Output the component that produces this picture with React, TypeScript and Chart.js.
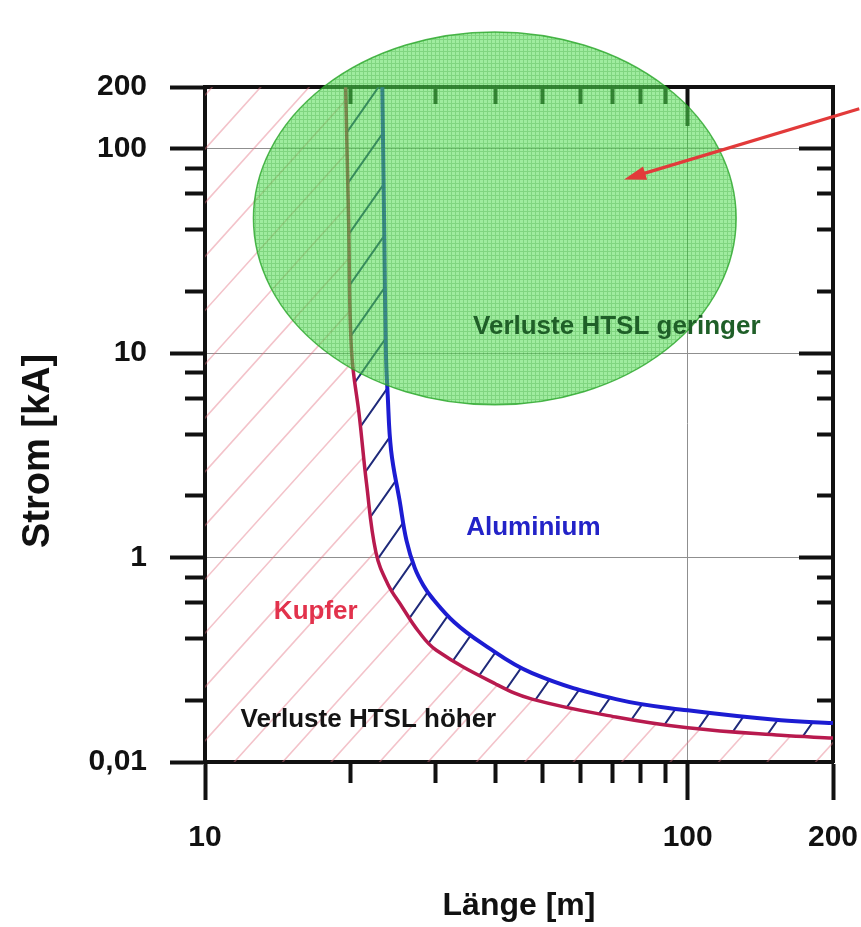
import React, { useEffect, useRef } from "react";
import { Chart, registerables } from "chart.js";

Chart.register(...registerables);

// ---------- data ----------
const kupferLength = [19.56, 19.84, 20.12, 20.9, 21.61, 22.6, 23.88, 25.65, 27.68, 30.15, 40.1, 47.6, 71, 100, 156, 200];
const kupferCurrent = [200, 44, 10.2, 4.82, 2.3, 1.06, 0.747, 0.57, 0.436, 0.352, 0.24, 0.203, 0.166, 0.147, 0.135, 0.131];

const aluminiumLength = [23.3, 23.5, 23.7, 23.9, 24.3, 25.3, 26.15, 27.2, 28.35, 29.6, 32.85, 37.5, 47.6, 71, 100, 156, 200];
const aluminiumCurrent = [200, 44, 10.2, 6.3, 3.33, 1.9, 1.21, 0.89, 0.73, 0.631, 0.482, 0.38, 0.272, 0.203, 0.179, 0.16, 0.155];

const xRange = [10, 200];
const yRange = [0.1, 200];

const xMajorTicks = [10, 100, 200];
const xMajorLabels = ["10", "100", "200"];
const xMinorTicks = [20, 30, 40, 50, 60, 70, 80, 90];
const xTopMajorTicks = [100];
const xGridValues = [100];

const yMajorTicks = [0.1, 1, 10, 100, 200];
const yMajorLabels = ["0,01", "1", "10", "100", "200"];
const yMinorTicks = [0.2, 0.4, 0.6, 0.8, 2, 4, 6, 8, 20, 40, 60, 80];
const yRightMajorTicks = [1, 10, 100];
const yGridValues = [1, 10, 100];

// green ellipse bounds (data units)
const ellipseLength = [12.6, 126];
const ellipseCurrent = [5.58, 372];

// red arrow (data units): from, to
const arrowLength = [226.7, 73.8];
const arrowCurrent = [156.7, 70.6];

// annotation texts
const noteTexts = ["Verluste HTSL geringer", "Aluminium", "Kupfer", "Verluste HTSL höher"];
const noteLength = [71.3, 47.9, 16.96, 21.8];
const noteCurrent = [13.4, 1.4, 0.54, 0.16];

// ---------- styles ----------
const FONT = "'Liberation Sans', Arial, Helvetica, sans-serif";
const AXIS = "#111111";
const GRID = "#8f8f8f";
const NOTE_COLORS = ["#1f5f28", "#2323c8", "#e2324c", "#141414"];

const bold = (size: number) => ({ family: FONT, size, weight: "bold" as const });
const setTicks = (values: number[]) => (scale: any) => {
  scale.ticks = values.map((v) => ({ value: v }));
};
const labelOf = (values: number[], labels: string[]) => (v: any) => {
  const i = values.findIndex((t) => Math.abs(t - Number(v)) < 1e-9);
  return i >= 0 ? labels[i] : "";
};

function drawHatch(ctx: CanvasRenderingContext2D, area: any, angleDeg: number, spacing: number, color: string, width: number) {
  const a = (angleDeg * Math.PI) / 180;
  const nx = Math.sin(a), ny = Math.cos(a);
  const dx = Math.cos(a), dy = -Math.sin(a);
  const cs = [
    [area.left, area.top],
    [area.right, area.top],
    [area.left, area.bottom],
    [area.right, area.bottom],
  ].map(([x, y]) => x * nx + y * ny);
  const cmin = Math.min(...cs), cmax = Math.max(...cs);
  const L = 3000;
  ctx.strokeStyle = color;
  ctx.lineWidth = width;
  ctx.beginPath();
  for (let c = Math.floor(cmin / spacing) * spacing; c <= cmax + spacing; c += spacing) {
    const px = c * nx, py = c * ny;
    ctx.moveTo(px - L * dx, py - L * dy);
    ctx.lineTo(px + L * dx, py + L * dy);
  }
  ctx.stroke();
}

let meshCache: CanvasPattern | null = null;
function meshPattern(ctx: CanvasRenderingContext2D) {
  if (meshCache) return meshCache;
  const c = document.createElement("canvas");
  c.width = 4;
  c.height = 4;
  const g = c.getContext("2d")!;
  g.fillStyle = "rgba(84,222,84,0.56)";
  g.fillRect(0, 0, 4, 4);
  g.fillStyle = "rgba(20,130,20,0.22)";
  g.fillRect(3, 0, 1, 4);
  g.fillRect(0, 3, 3, 1);
  meshCache = ctx.createPattern(c, "repeat");
  return meshCache;
}

const decorPlugin = {
  id: "decor",
  beforeDatasetsDraw(chart: any) {
    const { ctx, chartArea: a } = chart;
    const red = chart.getDatasetMeta(0).dataset;
    const blue = chart.getDatasetMeta(1).dataset;
    red.updateControlPoints(a, "x");
    blue.updateControlPoints(a, "x");
    const region = (line: any) => {
      const pts = line.points;
      const first = pts[0], last = pts[pts.length - 1];
      line.path(ctx);
      ctx.lineTo(a.right + 20, last.y);
      ctx.lineTo(a.right + 20, a.bottom + 20);
      ctx.lineTo(a.left - 20, a.bottom + 20);
      ctx.lineTo(a.left - 20, a.top - 20);
      ctx.lineTo(first.x, a.top - 20);
      ctx.closePath();
    };
    // light hatch: losses HTS higher region
    ctx.save();
    ctx.beginPath();
    ctx.rect(a.left, a.top, a.right - a.left, a.bottom - a.top);
    ctx.clip();
    ctx.beginPath();
    region(red);
    ctx.clip();
    drawHatch(ctx, a, 48, 36, "rgba(226,112,128,0.42)", 1.6);
    ctx.restore();
    // dark hatch between copper and aluminium
    ctx.save();
    ctx.beginPath();
    ctx.rect(a.left, a.top, a.right - a.left, a.bottom - a.top);
    ctx.clip();
    ctx.beginPath();
    region(blue);
    region(red);
    ctx.clip("evenodd");
    drawHatch(ctx, a, 55, 30, "#1f2a7a", 2);
    ctx.restore();
  },
  afterDraw(chart: any) {
    const { ctx } = chart;
    const xs = chart.scales.x, ys = chart.scales.y;
    // ellipse
    const l = xs.getPixelForValue(ellipseLength[0]);
    const r = xs.getPixelForValue(ellipseLength[1]);
    const b = ys.getPixelForValue(ellipseCurrent[0]);
    const t = ys.getPixelForValue(ellipseCurrent[1]);
    ctx.save();
    ctx.beginPath();
    ctx.ellipse((l + r) / 2, (t + b) / 2, (r - l) / 2, (b - t) / 2, 0, 0, Math.PI * 2);
    ctx.fillStyle = meshPattern(ctx) as any;
    ctx.fill();
    ctx.strokeStyle = "rgba(40,165,40,0.8)";
    ctx.lineWidth = 1.5;
    ctx.stroke();
    ctx.restore();

    // arrow
    const x0 = xs.getPixelForValue(arrowLength[0]), y0 = ys.getPixelForValue(arrowCurrent[0]);
    const x1 = xs.getPixelForValue(arrowLength[1]), y1 = ys.getPixelForValue(arrowCurrent[1]);
    const ang = Math.atan2(y1 - y0, x1 - x0);
    const head = 22, half = 7;
    const c = Math.cos(ang), s = Math.sin(ang);
    ctx.save();
    ctx.strokeStyle = "#e23a3a";
    ctx.fillStyle = "#e23a3a";
    ctx.lineWidth = 3.2;
    ctx.beginPath();
    ctx.moveTo(x0, y0);
    ctx.lineTo(x1 - head * 0.8 * c, y1 - head * 0.8 * s);
    ctx.stroke();
    ctx.beginPath();
    ctx.moveTo(x1, y1);
    ctx.lineTo(x1 - head * c + half * s, y1 - head * s - half * c);
    ctx.lineTo(x1 - head * c - half * s, y1 - head * s + half * c);
    ctx.closePath();
    ctx.fill();
    ctx.restore();

    // texts
    ctx.save();
    ctx.font = `bold 26px ${FONT}`;
    ctx.textAlign = "center";
    ctx.textBaseline = "middle";
    noteTexts.forEach((txt, i) => {
      ctx.fillStyle = NOTE_COLORS[i];
      ctx.fillText(txt, xs.getPixelForValue(noteLength[i]), ys.getPixelForValue(noteCurrent[i]));
    });
    ctx.restore();
  },
};

const minorAxis = (axis: "x" | "y", position: any, values: number[], tickLength: number, borderShown = false) => ({
  type: "logarithmic" as const,
  axis,
  position,
  min: axis === "x" ? xRange[0] : yRange[0],
  max: axis === "x" ? xRange[1] : yRange[1],
  display: true,
  afterBuildTicks: setTicks(values),
  afterFit: (s: any) => {
    s.paddingLeft = 0;
    s.paddingRight = 0;
    s.paddingTop = 0;
    s.paddingBottom = 0;
  },
  grid: {
    display: true,
    drawOnChartArea: false,
    drawTicks: true,
    tickLength,
    tickColor: AXIS,
    tickWidth: 4,
    color: "transparent",
  },
  border: { display: borderShown, color: AXIS, width: 4 },
  ticks: { display: false },
});

export default function App() {
  const ref = useRef<HTMLCanvasElement>(null);
  useEffect(() => {
    const canvas = ref.current!;
    const chart = new Chart(canvas, {
      type: "line",
      data: {
        datasets: [
          {
            label: "Kupfer",
            data: kupferLength.map((x, i) => ({ x, y: kupferCurrent[i] })),
            borderColor: "#b81a4e",
            borderWidth: 3.5,
            pointRadius: 0,
            tension: 0.4,
            fill: false,
          },
          {
            label: "Aluminium",
            data: aluminiumLength.map((x, i) => ({ x, y: aluminiumCurrent[i] })),
            borderColor: "#1c1cd2",
            borderWidth: 4,
            pointRadius: 0,
            tension: 0.4,
            fill: false,
          },
        ],
      },
      options: {
        responsive: false,
        animation: false,
        devicePixelRatio: 1,
        layout: { padding: { top: 87, right: 28, bottom: 0, left: 0 } },
        plugins: { legend: { display: false }, tooltip: { enabled: false } },
        scales: {
          x: {
            type: "logarithmic",
            position: "bottom",
            min: xRange[0],
            max: xRange[1],
            afterBuildTicks: setTicks(xMajorTicks),
            afterFit: (s: any) => {
              s.height = 165;
              s.paddingLeft = 0;
              s.paddingRight = 0;
            },
            grid: {
              color: (c: any) => (c.tick && xGridValues.includes(c.tick.value) ? GRID : "transparent"),
              lineWidth: 1,
              drawTicks: true,
              tickLength: 38,
              tickColor: AXIS,
              tickWidth: 4,
            },
            border: { display: true, color: AXIS, width: 4 },
            ticks: {
              autoSkip: false,
              maxRotation: 0,
              padding: 20,
              color: "#111",
              font: bold(30),
              callback: labelOf(xMajorTicks, xMajorLabels),
            },
            title: { display: true, text: "Länge [m]", color: "#111", font: bold(32), padding: { top: 0, bottom: 2 } },
          },
          y: {
            type: "logarithmic",
            position: "left",
            min: yRange[0],
            max: yRange[1],
            afterBuildTicks: setTicks(yMajorTicks),
            afterFit: (s: any) => {
              s.width = 205;
              s.paddingTop = 0;
              s.paddingBottom = 0;
            },
            grid: {
              color: (c: any) => (c.tick && yGridValues.includes(c.tick.value) ? GRID : "transparent"),
              lineWidth: 1,
              drawTicks: true,
              tickLength: 35,
              tickColor: AXIS,
              tickWidth: 4,
            },
            border: { display: true, color: AXIS, width: 4 },
            ticks: {
              autoSkip: false,
              padding: 23,
              color: "#111",
              font: bold(30),
              callback: labelOf(yMajorTicks, yMajorLabels),
            },
            title: { display: true, text: "Strom [kA]     ", color: "#111", font: bold(38), padding: { top: 16, bottom: 0 } },
          },
          xMinor: minorAxis("x", { y: yRange[0] }, xMinorTicks, 21),
          xTopMinor: minorAxis("x", { y: yRange[1] }, xMinorTicks, 17),
          xTopMajor: minorAxis("x", { y: yRange[1] }, xTopMajorTicks, 37, true),
          yMinor: minorAxis("y", { x: xRange[0] }, yMinorTicks, 20),
          yRightMinor: minorAxis("y", { x: xRange[1] }, yMinorTicks, 16),
          yRightMajor: minorAxis("y", { x: xRange[1] }, yRightMajorTicks, 32, true),
        } as any,
      },
      plugins: [decorPlugin as any],
    });
    return () => chart.destroy();
  }, []);

  return (
    <div style={{ position: "absolute", left: 0, top: 0, width: 861, height: 927 }}>
      <canvas ref={ref} width={861} height={927} style={{ display: "block", width: 861, height: 927 }} />
    </div>
  );
}
